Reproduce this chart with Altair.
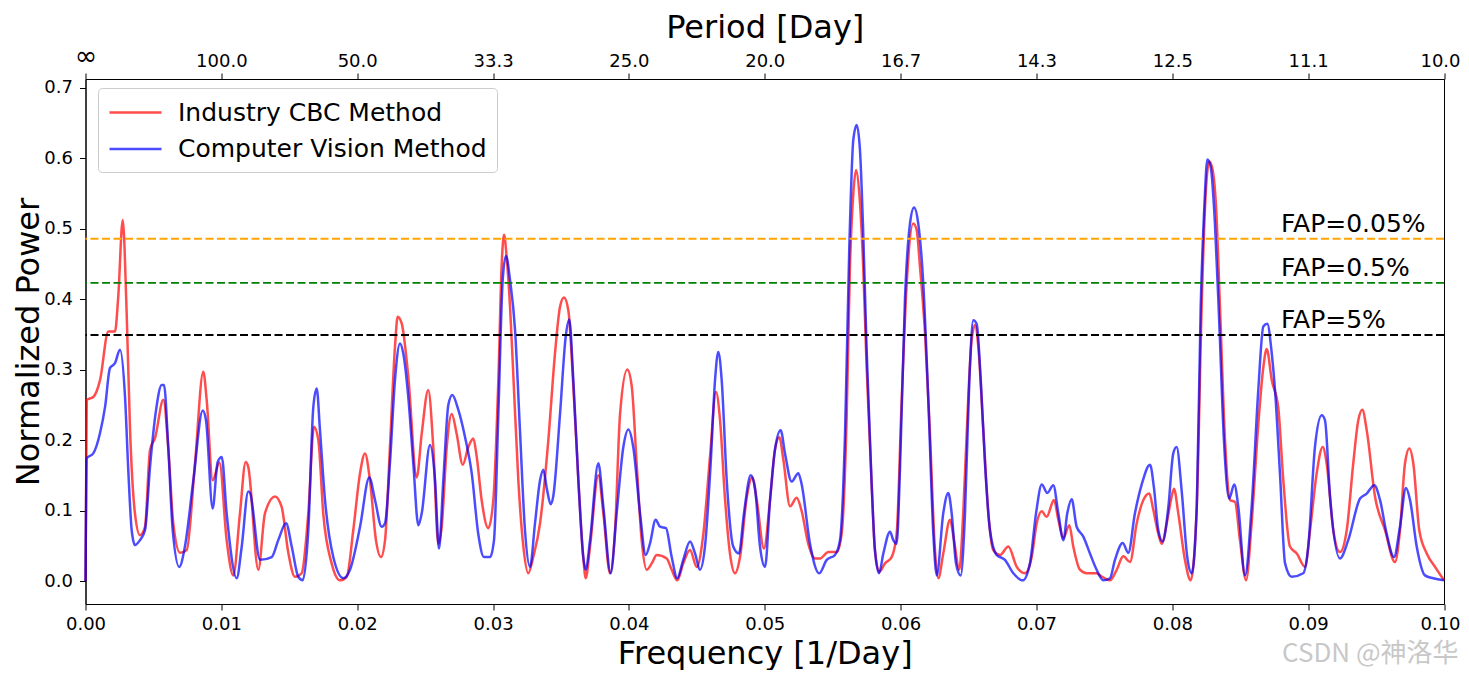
import altair as alt
import pandas as pd

# ---------------- data ----------------
red_freq = [0, 0.00009, 0.00057, 0.00107, 0.00168, 0.00217, 0.00241, 0.00274, 0.00303, 0.00328,
            0.00364, 0.00401, 0.00438, 0.00475, 0.00512, 0.00573, 0.00609, 0.00646, 0.00696, 0.00745,
            0.00806, 0.00867, 0.00892, 0.00936, 0.00986, 0.01039, 0.01088, 0.01137, 0.01179, 0.01198,
            0.01272, 0.01321, 0.01395, 0.01444, 0.01493, 0.01542, 0.01591, 0.0164, 0.01682, 0.01714,
            0.0175, 0.01812, 0.01873, 0.01923, 0.01971, 0.02021, 0.02057, 0.02094, 0.02138, 0.02175,
            0.02205, 0.02241, 0.02278, 0.02298, 0.02328, 0.02376, 0.02438, 0.02475, 0.02523, 0.0256,
            0.02597, 0.02622, 0.02659, 0.02696, 0.02732, 0.02777, 0.02818, 0.02855, 0.0288, 0.02916,
            0.02965, 0.03002, 0.03039, 0.03064, 0.03081, 0.031, 0.03125, 0.03149, 0.03186, 0.03223,
            0.03259, 0.03296, 0.03346, 0.03407, 0.03456, 0.03493, 0.03522, 0.03554, 0.03591, 0.03628,
            0.03664, 0.03682, 0.03714, 0.03775, 0.03812, 0.03861, 0.03898, 0.03935, 0.03988, 0.04021,
            0.04057, 0.04094, 0.04131, 0.04168, 0.04205, 0.04278, 0.04315, 0.04356, 0.044, 0.0445,
            0.04499, 0.04548, 0.04597, 0.04641, 0.04671, 0.04707, 0.04744, 0.04781, 0.04818, 0.04867,
            0.04908, 0.04941, 0.04994, 0.05039, 0.05075, 0.05107, 0.05137, 0.05186, 0.05235, 0.05272,
            0.0532, 0.0537, 0.05407, 0.05468, 0.0553, 0.05566, 0.05603, 0.05627, 0.05652, 0.05672,
            0.05696, 0.05725, 0.0575, 0.05787, 0.05811, 0.05843, 0.05885, 0.05934, 0.05971, 0.06008,
            0.06045, 0.06093, 0.06118, 0.06143, 0.0618, 0.06216, 0.06253, 0.06278, 0.06314, 0.06364,
            0.06393, 0.06432, 0.06461, 0.06498, 0.06523, 0.06548, 0.06572, 0.06609, 0.06646, 0.06682,
            0.06732, 0.06793, 0.06855, 0.06916, 0.06965, 0.07002, 0.07039, 0.07075, 0.07129, 0.07161,
            0.07198, 0.07242, 0.07271, 0.0732, 0.0737, 0.07443, 0.07468, 0.07541, 0.07591, 0.07639,
            0.07689, 0.07738, 0.07787, 0.07831, 0.0786, 0.07897, 0.07922, 0.07959, 0.0799, 0.08012,
            0.08044, 0.08093, 0.08135, 0.0818, 0.08216, 0.08241, 0.08272, 0.08297, 0.08322, 0.08351,
            0.08388, 0.08425, 0.08462, 0.08498, 0.08543, 0.08584, 0.08633, 0.0867, 0.08695, 0.08732,
            0.0878, 0.08817, 0.08866, 0.08916, 0.08977, 0.09014, 0.09063, 0.09107, 0.09136, 0.09185,
            0.09234, 0.09284, 0.09332, 0.09369, 0.09399, 0.09431, 0.09492, 0.09566, 0.09639, 0.09676,
            0.09713, 0.09745, 0.09774, 0.09818, 0.09873, 0.09934, 0.1]
red_power = [0, 0.257, 0.261, 0.285, 0.354, 0.354, 0.403, 0.512, 0.38, 0.214,
             0.096, 0.065, 0.077, 0.186, 0.203, 0.257, 0.19, 0.082, 0.04, 0.044,
             0.167, 0.297, 0.257, 0.143, 0.168, 0.058, 0.008, 0.096, 0.169, 0.162,
             0.016, 0.096, 0.12, 0.105, 0.04, 0.006, 0.011, 0.096, 0.219, 0.2,
             0.096, 0.025, 0.001, 0.006, 0.072, 0.153, 0.181, 0.143, 0.058, 0.034,
             0.058, 0.19, 0.332, 0.375, 0.365, 0.29, 0.147, 0.209, 0.271, 0.19,
             0.053, 0.077, 0.19, 0.237, 0.209, 0.165, 0.19, 0.202, 0.176, 0.115,
             0.075, 0.115, 0.285, 0.451, 0.491, 0.46, 0.389, 0.293, 0.143, 0.049,
             0.011, 0.034, 0.082, 0.2, 0.323, 0.389, 0.402, 0.384, 0.276, 0.143,
             0.034, 0.004, 0.049, 0.15, 0.096, 0.011, 0.072, 0.237, 0.3, 0.276,
             0.167, 0.058, 0.016, 0.025, 0.037, 0.032, 0.016, 0.001, 0.025, 0.044,
             0.02, 0.067, 0.176, 0.268, 0.228, 0.118, 0.039, 0.011, 0.034, 0.118,
             0.147, 0.115, 0.046, 0.115, 0.186, 0.204, 0.172, 0.106, 0.118, 0.099,
             0.053, 0.032, 0.032, 0.041, 0.041, 0.067, 0.233, 0.445, 0.55, 0.583,
             0.55, 0.445, 0.303, 0.137, 0.044, 0.013, 0.025, 0.034, 0.067, 0.257,
             0.422, 0.507, 0.498, 0.445, 0.351, 0.209, 0.044, 0.004, 0.039, 0.087,
             0.058, 0.016, 0.096, 0.26, 0.342, 0.363, 0.332, 0.214, 0.096, 0.044,
             0.037, 0.049, 0.02, 0.011, 0.034, 0.082, 0.099, 0.091, 0.115, 0.087,
             0.061, 0.079, 0.049, 0.016, 0.011, 0.011, 0.008, 0.001, 0.016, 0.035,
             0.027, 0.082, 0.115, 0.124, 0.101, 0.067, 0.053, 0.082, 0.115, 0.131,
             0.096, 0.03, 0.001, 0.105, 0.389, 0.531, 0.595, 0.583, 0.531, 0.389,
             0.2, 0.115, 0.112, 0.058, 0.001, 0.082, 0.222, 0.303, 0.329, 0.285,
             0.246, 0.143, 0.049, 0.039, 0.02, 0.072, 0.153, 0.19, 0.167, 0.072,
             0.041, 0.072, 0.167, 0.228, 0.243, 0.214, 0.12, 0.072, 0.027, 0.072,
             0.167, 0.188, 0.167, 0.072, 0.039, 0.02, 0.001]

blue_freq = [0, 0.00009, 0.00057, 0.00107, 0.00144, 0.0018, 0.00217, 0.00254, 0.00291, 0.00315,
             0.0034, 0.00364, 0.00401, 0.00438, 0.00475, 0.00519, 0.00561, 0.00578, 0.00609, 0.00642,
             0.0069, 0.00732, 0.00794, 0.00863, 0.00887, 0.00936, 0.00973, 0.01003, 0.01039, 0.01113,
             0.0115, 0.01198, 0.01211, 0.01285, 0.01371, 0.01419, 0.01476, 0.01518, 0.01566, 0.01599,
             0.0164, 0.01677, 0.01702, 0.01726, 0.01763, 0.01824, 0.01898, 0.01947, 0.02021, 0.02089,
             0.02131, 0.0218, 0.02205, 0.02241, 0.02278, 0.02315, 0.02339, 0.02376, 0.02413, 0.0245,
             0.02475, 0.02536, 0.02573, 0.02602, 0.02634, 0.02671, 0.027, 0.02744, 0.02794, 0.02843,
             0.02891, 0.02933, 0.02978, 0.03007, 0.03039, 0.03071, 0.03095, 0.03125, 0.03162, 0.03198,
             0.03235, 0.03272, 0.03309, 0.03346, 0.0337, 0.03395, 0.03424, 0.03443, 0.03493, 0.03535,
             0.03561, 0.03591, 0.03628, 0.03664, 0.03682, 0.03714, 0.03775, 0.03812, 0.03866, 0.0391,
             0.03959, 0.03996, 0.04032, 0.04082, 0.04124, 0.04155, 0.04197, 0.04229, 0.04273, 0.04315,
             0.04356, 0.044, 0.0445, 0.04487, 0.04523, 0.0456, 0.04602, 0.04634, 0.04658, 0.04683,
             0.0472, 0.04768, 0.0481, 0.04847, 0.04897, 0.04928, 0.04965, 0.05002, 0.05039, 0.05075,
             0.05117, 0.05149, 0.05198, 0.05247, 0.05272, 0.05333, 0.05401, 0.05456, 0.05517, 0.05554,
             0.05591, 0.05622, 0.05652, 0.05677, 0.05701, 0.05725, 0.0575, 0.05787, 0.05811, 0.05841,
             0.05873, 0.05922, 0.05946, 0.05971, 0.05996, 0.06032, 0.06069, 0.06099, 0.0613, 0.06167,
             0.06204, 0.06241, 0.06266, 0.06314, 0.06351, 0.06376, 0.06408, 0.06442, 0.06474, 0.06506,
             0.06535, 0.0656, 0.0659, 0.06621, 0.06658, 0.06707, 0.06768, 0.0683, 0.06899, 0.06952,
             0.06997, 0.07039, 0.0708, 0.07124, 0.07161, 0.07198, 0.07227, 0.07259, 0.07296, 0.07345,
             0.07394, 0.07443, 0.07492, 0.07541, 0.07578, 0.07635, 0.07676, 0.07725, 0.07775, 0.07836,
             0.07865, 0.07897, 0.07929, 0.07971, 0.08007, 0.08032, 0.08069, 0.0811, 0.08143, 0.0818,
             0.08209, 0.08236, 0.08258, 0.08283, 0.08314, 0.08346, 0.0838, 0.08419, 0.08456, 0.08486,
             0.08535, 0.08584, 0.08633, 0.0867, 0.08699, 0.08732, 0.08756, 0.08793, 0.0883, 0.08879,
             0.08964, 0.09001, 0.0905, 0.091, 0.09124, 0.09161, 0.09234, 0.09295, 0.09382, 0.09431,
             0.09487, 0.09529, 0.09578, 0.09632, 0.09676, 0.0972, 0.0975, 0.09799, 0.0986, 0.09921,
             0.1]
blue_power = [0, 0.174, 0.181, 0.21, 0.247, 0.302, 0.309, 0.328, 0.261, 0.157,
              0.072, 0.051, 0.058, 0.072, 0.162, 0.242, 0.278, 0.278, 0.19, 0.072,
              0.02, 0.049, 0.143, 0.242, 0.228, 0.103, 0.169, 0.176, 0.096, 0.004,
              0.049, 0.127, 0.125, 0.03, 0.034, 0.058, 0.082, 0.049, 0.006, 0.001,
              0.072, 0.247, 0.273, 0.214, 0.115, 0.034, 0.004, 0.016, 0.077, 0.147,
              0.115, 0.077, 0.082, 0.167, 0.285, 0.337, 0.323, 0.261, 0.167, 0.079,
              0.096, 0.193, 0.143, 0.046, 0.143, 0.25, 0.264, 0.243, 0.204, 0.153,
              0.067, 0.034, 0.034, 0.058, 0.237, 0.427, 0.461, 0.427, 0.356, 0.214,
              0.072, 0.02, 0.082, 0.143, 0.158, 0.132, 0.109, 0.12, 0.237, 0.347,
              0.371, 0.285, 0.143, 0.034, 0.016, 0.058, 0.167, 0.105, 0.011, 0.096,
              0.19, 0.215, 0.19, 0.096, 0.037, 0.053, 0.087, 0.077, 0.075, 0.034,
              0.004, 0.03, 0.056, 0.039, 0.016, 0.049, 0.167, 0.285, 0.325, 0.285,
              0.143, 0.049, 0.039, 0.096, 0.15, 0.132, 0.049, 0.02, 0.115, 0.186,
              0.214, 0.181, 0.141, 0.153, 0.137, 0.053, 0.011, 0.03, 0.037, 0.058,
              0.209, 0.47, 0.626, 0.647, 0.611, 0.493, 0.328, 0.137, 0.044, 0.011,
              0.039, 0.07, 0.058, 0.053, 0.162, 0.399, 0.507, 0.53, 0.507, 0.422,
              0.257, 0.067, 0.008, 0.096, 0.125, 0.096, 0.025, 0.008, 0.096, 0.285,
              0.37, 0.365, 0.285, 0.167, 0.072, 0.037, 0.03, 0.011, 0.001, 0.025,
              0.096, 0.137, 0.125, 0.136, 0.096, 0.058, 0.096, 0.116, 0.077, 0.063,
              0.039, 0.016, 0.001, 0.004, 0.03, 0.054, 0.04, 0.096, 0.137, 0.165,
              0.132, 0.072, 0.056, 0.105, 0.181, 0.19, 0.128, 0.034, 0.011, 0.105,
              0.389, 0.531, 0.598, 0.587, 0.507, 0.365, 0.2, 0.117, 0.137, 0.105,
              0.008, 0.105, 0.271, 0.361, 0.365, 0.323, 0.271, 0.151, 0.025, 0.006,
              0.011, 0.049, 0.19, 0.235, 0.228, 0.12, 0.032, 0.058, 0.117, 0.124,
              0.136, 0.115, 0.067, 0.034, 0.077, 0.132, 0.115, 0.049, 0.008, 0.004,
              0.001]

series_names = ["Industry CBC Method", "Computer Vision Method"]
series_colors = ["#ff0000", "#0000ff"]

fap_levels = [0.4855, 0.423, 0.349]
fap_labels = ["FAP=0.05%", "FAP=0.5%", "FAP=5%"]
fap_colors = ["orange", "green", "black"]
fap_label_freq = [0.088, 0.088, 0.088]

x_ticks = [0.0, 0.01, 0.02, 0.03, 0.04, 0.05, 0.06, 0.07, 0.08, 0.09, 0.1]
y_ticks = [0.0, 0.1, 0.2, 0.3, 0.4, 0.5, 0.6, 0.7]
x_domain = [0.0, 0.1]
y_domain = [-0.0326, 0.7121]

watermark = ["CSDN @神洛华"]

# ---------------- chart ----------------
W, H = 1358.5, 525
FONT = "DejaVu Sans"

red_df = pd.DataFrame({"freq": red_freq, "power": red_power, "series": series_names[0]})
blue_df = pd.DataFrame({"freq": blue_freq, "power": blue_power, "series": series_names[1]})
fap_df = pd.DataFrame({"power": fap_levels, "label": fap_labels,
                       "color": fap_colors, "freq": fap_label_freq})
wm_df = pd.DataFrame({"t": watermark})

x_scale = alt.Scale(domain=x_domain, nice=False, zero=False)
y_scale = alt.Scale(domain=y_domain, nice=False, zero=False)
color_scale = alt.Scale(domain=series_names, range=series_colors)

# keep the last x label inside the page edge
last_label_shift = {"condition": {"test": "datum.value >= 0.0999", "value": -4}, "value": 0}

x_bottom = alt.X("freq:Q", scale=x_scale,
                 axis=alt.Axis(orient="bottom", values=x_ticks, format=".2f",
                               title="Frequency [1/Day]", labelFlush=False,
                               labelOffset=last_label_shift,
                               labelPadding=5.5, titleX=W / 2, titleY=59,
                               titleAlign="center", titleBaseline="alphabetic"))
y_left = alt.Y("power:Q", scale=y_scale,
               axis=alt.Axis(orient="left", values=y_ticks, format=".1f",
                             title="Normalized Power",
                             labelPadding=7, titleAngle=270, titleX=-47.5, titleY=H / 2,
                             titleAlign="center", titleBaseline="alphabetic"))
x_none = alt.X("freq:Q", scale=x_scale, axis=None)
y_none = alt.Y("power:Q", scale=y_scale, axis=None)

legend = alt.Legend(title=None, orient="none", legendX=12.5, legendY=9,
                    symbolType="M-2,0L2,0", symbolSize=676, symbolStrokeWidth=2.5,
                    symbolOffset=13, labelOffset=28, labelLimit=500,
                    labelFontSize=25, labelFont=FONT, padding=10,
                    rowPadding=8.5, strokeColor="#cccccc",
                    fillColor="rgba(255,255,255,0.8)", cornerRadius=4)
color_enc = alt.Color("series:N", scale=color_scale, legend=legend)

red_line = alt.Chart(red_df).mark_line(strokeWidth=2.5, opacity=0.7, interpolate="monotone").encode(
    x=x_bottom, y=y_left, color=color_enc)
blue_line = alt.Chart(blue_df).mark_line(strokeWidth=2.5, opacity=0.7, interpolate="monotone").encode(
    x=x_none, y=y_none, color=color_enc)

fap_rules = alt.Chart(fap_df).mark_rule(strokeDash=[8, 3.5], strokeWidth=1.8).encode(
    y=y_none, stroke=alt.Stroke("color:N", scale=None))
fap_text = alt.Chart(fap_df).mark_text(align="left", baseline="alphabetic", dy=-7,
                                        fontSize=25, font=FONT, color="black").encode(
    x=x_none, y=y_none, text="label:N")

top_axis = alt.Chart(red_df).mark_line(opacity=0).encode(
    x=alt.X("freq:Q", scale=x_scale,
            axis=alt.Axis(orient="top", values=x_ticks, labelFlush=False,
                          labelExpr="datum.value == 0 ? '∞' : format(1 / datum.value, '.1f')",
                          labelFontSize={"condition": {"test": "datum.value == 0", "value": 27},
                                         "value": 18},
                          labelOffset=last_label_shift,
                          title="Period [Day]", labelPadding=2.5,
                          titleX=W / 2, titleY=-42, titleAlign="center",
                          titleBaseline="alphabetic")),
    y=y_none)

wm = alt.Chart(wm_df).mark_text(align="right", baseline="alphabetic", fontSize=26,
                                 font="Noto Sans CJK SC", color="#c8c8c8").encode(
    x=alt.value(1373), y=alt.value(583), text="t:N")

chart = alt.layer(red_line, blue_line, fap_rules, fap_text, top_axis, wm).resolve_axis(
    x="independent", y="independent"
).properties(
    width=W, height=H,
    autosize=alt.AutoSizeParams(type="none"),
    padding={"left": 77.5, "top": 71, "right": 17, "bottom": 66},
).configure_view(
    stroke="black", strokeWidth=1
).configure_axis(
    grid=False, domainColor="black", tickColor="black", labelColor="black",
    titleColor="black", labelFont=FONT, titleFont=FONT, labelFontSize=18,
    titleFontSize=32, titleFontWeight="normal", tickSize=6, tickWidth=1,
    domainWidth=1,
)

chart.save("out.html", embed_options={"renderer": "svg", "actions": False})
